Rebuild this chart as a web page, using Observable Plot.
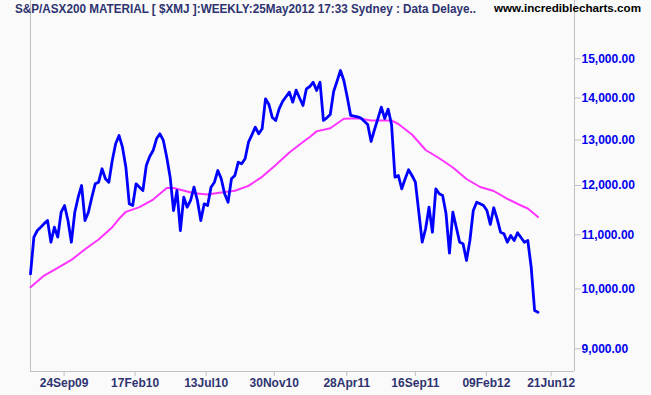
<!DOCTYPE html>
<html><head><meta charset="utf-8">
<script src="https://cdn.jsdelivr.net/npm/d3@7"></script>
<script src="https://cdn.jsdelivr.net/npm/@observablehq/plot@0.6"></script>
<style>
html,body{margin:0;padding:0;background:#fafafa;}
#chart{width:651px;height:395px;}
</style></head><body><div id="chart"></div>
<script>
const titleText = "S&P/ASX200 MATERIAL [ $XMJ ]:WEEKLY:25May2012 17:33 Sydney : Data Delaye..";
const siteText = "www.incrediblecharts.com";

// weekly closes, first week ending 17 Jul 2009, last 25 May 2012
const firstWeek = "2009-07-17";
const closeValues = [
  10271,10956,11085,11150,11220,11282,10859,11150,10956,11448,
  11584,11282,10859,11448,11755,12000,11282,11448,11750,12035,
  12070,12358,12143,12070,12540,12914,13104,12837,12393,11619,
  11584,12035,11964,11894,12430,12629,12762,13028,13144,12990,
  12614,12176,11482,11894,11085,11755,11550,11687,11964,11687,
  11282,11619,11584,11964,12070,12321,12143,11825,11652,12143,
  12213,12502,12467,12578,12951,13120,13298,13144,13260,13980,
  13839,13526,13456,13736,13913,14030,14144,13897,14193,14000,
  13816,14228,14286,14394,14186,14394,13456,13520,13598,14161,
  14420,14694,14438,14019,13575,13560,13543,13515,13440,13361,
  12967,13244,13500,13775,13503,13727,13361,12176,12213,11930,
  12143,12336,12213,12070,11450,10859,11119,11550,11052,11930,
  11825,11790,11416,10651,11448,11150,10859,10829,10515,10892,
  11482,11652,11620,11584,11482,11203,11538,11316,11052,11021,
  10859,10988,10892,11040,10950,10859,10892,10391,9628,9599
];

// moving average read at these week numbers
const maWeekIndex = [0,4,8,12,16,20,24,26,28,32,36,40,42,44,48,52,56,60,64,68,
  72,76,80,82,84,88,90,92,96,100,104,106,108,112,116,120,124,128,132,136,140,144,146,149];
const maValues = [10031,10240,10380,10524,10724,10911,11150,11316,11456,11552,
  11707,11945,11945,11909,11836,11811,11852,11888,11993,12185,
  12443,12718,12956,13070,13200,13274,13385,13496,13507,13456,
  13456,13456,13373,13128,12774,12590,12387,12138,11968,11884,
  11722,11584,11523,11350];

const xTickDates = ["2009-09-24","2010-02-17","2010-07-13","2010-11-30","2011-04-28","2011-09-16","2012-02-09","2012-06-21"];
const xTickLabels = ["24Sep09","17Feb10","13Jul10","30Nov10","28Apr11","16Sep11","09Feb12","21Jun12"];
const yTicks = [9000,10000,11000,12000,13000,14000,15000];

const xDomainDates = ["2009-07-17","2012-08-08"];
const yDomain = [8647, 16623];

const weekDates = closeValues.map((_, i) => d3.utcDay.offset(new Date(firstWeek), 7 * i));
const price = closeValues.map((v, i) => ({date: weekDates[i], value: v}));
const ma = maWeekIndex.map((w, j) => ({date: weekDates[w], value: maValues[j]}));
const xDomain = xDomainDates.map(s => new Date(s));
const xTicks = xTickDates.map(s => new Date(s));
const labelByTime = new Map(xTicks.map((d, i) => [+d, xTickLabels[i]]));

const grey = "#c0c0c0";
const chart = Plot.plot({
  width: 651, height: 395,
  marginLeft: 30, marginRight: 77, marginTop: 0, marginBottom: 24,
  style: {background: "#fafafa", fontFamily: "'Liberation Sans', Arial, sans-serif", fontSize: "12px", fontWeight: "bold"},
  x: {type: "utc", domain: xDomain},
  y: {type: "log", domain: yDomain},
  marks: [
    Plot.ruleX(xDomain, {stroke: grey}),
    Plot.ruleY([yDomain[0]], {stroke: grey}),
    Plot.axisX({ticks: xTicks, tickFormat: d => labelByTime.get(+d), tickSize: 5, tickPadding: 2, stroke: grey, fill: "#2e3370", label: null}),
    Plot.axisY({anchor: "right", ticks: yTicks, tickFormat: d3.format(",.2f"), tickSize: 6, tickPadding: 1, stroke: grey, fill: "#0000ee", label: null}),
    Plot.line(ma, {x: "date", y: "value", stroke: "#ff33ff", strokeWidth: 2}),
    Plot.line(price, {x: "date", y: "value", stroke: "#0000ff", strokeWidth: 2.8, strokeLinejoin: "round"})
  ]
});

const svg = d3.select(chart);
svg.append("text").attr("x", 15).attr("y", 12.5).attr("text-anchor", "start")
  .attr("fill", "#2e3370").attr("font-size", 12).attr("font-weight", "bold")
  .attr("textLength", 461).attr("lengthAdjust", "spacingAndGlyphs").text(titleText);
svg.append("text").attr("x", 494).attr("y", 11.5).attr("text-anchor", "start")
  .attr("fill", "#000").attr("font-size", 11.5).attr("font-weight", "bold")
  .attr("font-family", "'Liberation Sans', Arial, sans-serif")
  .attr("textLength", 147).attr("lengthAdjust", "spacingAndGlyphs").text(siteText);

document.getElementById("chart").appendChild(chart);
</script>
</body></html>
